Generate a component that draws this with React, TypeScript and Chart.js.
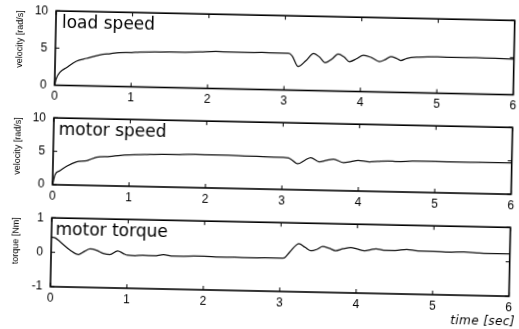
import React, { useEffect, useRef } from "react";
import { Chart, registerables } from "chart.js";

Chart.register(...registerables);

// ---------------- data ----------------
const timeTicks = [0, 1, 2, 3, 4, 5, 6];
const speedTicks = [0, 5, 10];
const torqueTicks = [-1, 0, 1];

const panelTitles = ["load speed", "motor speed", "motor torque"];
const yAxisTitles = ["velocity [rad/s]", "velocity [rad/s]", "torque [Nm]"];
const xAxisTitle = "time [sec]";

const loadT = [0, 0.02, 0.07, 0.15, 0.28, 0.41, 0.58, 0.72, 0.84, 1.0, 1.1, 1.3, 1.5, 1.7, 1.9, 2.1, 2.3, 2.5, 2.7, 2.9, 3.05, 3.1, 3.18, 3.28, 3.38, 3.46, 3.53, 3.62, 3.7, 3.78, 3.85, 3.94, 4.03, 4.14, 4.24, 4.32, 4.39, 4.46, 4.52, 4.6, 4.75, 5.0, 5.25, 5.5, 5.75, 6.0];
const loadV = [0, 0.9, 1.8, 2.4, 3.3, 3.7, 4.2, 4.4, 4.55, 4.6, 4.7, 4.75, 4.8, 4.8, 4.9, 5.0, 4.95, 4.95, 5.0, 4.95, 4.95, 4.6, 3.2, 4.0, 5.0, 4.5, 3.8, 4.3, 5.0, 4.6, 4.0, 4.4, 4.9, 4.6, 4.1, 4.4, 4.8, 4.6, 4.3, 4.6, 4.8, 4.9, 4.85, 4.9, 4.85, 4.8];

const motorT = [0, 0.03, 0.09, 0.18, 0.31, 0.44, 0.57, 0.74, 0.88, 1.0, 1.2, 1.42, 1.65, 1.86, 2.1, 2.29, 2.5, 2.75, 3.0, 3.08, 3.2, 3.3, 3.37, 3.48, 3.58, 3.67, 3.8, 3.9, 3.99, 4.14, 4.25, 4.38, 4.5, 4.7, 5.0, 5.3, 5.6, 6.0];
const motorV = [0, 1.5, 2.1, 2.8, 3.5, 3.7, 4.25, 4.4, 4.6, 4.7, 4.8, 4.9, 4.9, 5.0, 4.95, 4.95, 4.9, 4.85, 4.8, 4.75, 3.9, 4.5, 4.85, 4.25, 4.5, 4.7, 4.2, 4.4, 4.6, 4.4, 4.5, 4.6, 4.55, 4.65, 4.7, 4.65, 4.7, 4.7];

const torqueT = [0, 0.05, 0.12, 0.25, 0.36, 0.44, 0.51, 0.6, 0.68, 0.77, 0.87, 0.95, 1.0, 1.1, 1.2, 1.35, 1.47, 1.6, 1.8, 2.0, 2.2, 2.4, 2.6, 2.8, 3.0, 3.05, 3.12, 3.24, 3.32, 3.4, 3.48, 3.55, 3.64, 3.72, 3.82, 3.92, 4.0, 4.1, 4.18, 4.25, 4.35, 4.5, 4.65, 4.8, 5.0, 5.2, 5.4, 5.6, 5.8, 6.0];
const torqueV = [0.44, 0.42, 0.3, 0.07, -0.05, 0.05, 0.12, 0.08, 0.0, -0.03, 0.08, 0.0, -0.04, -0.05, -0.03, -0.04, 0.0, -0.04, -0.03, -0.02, -0.04, -0.03, -0.04, -0.03, -0.03, -0.02, 0.15, 0.4, 0.3, 0.2, 0.25, 0.33, 0.28, 0.22, 0.28, 0.32, 0.28, 0.23, 0.27, 0.3, 0.26, 0.26, 0.3, 0.26, 0.26, 0.25, 0.26, 0.24, 0.23, 0.23];

// ---------------- layout ----------------
const W = 519;
const H = 329;
const PLOT_LEFT = 53;
const PLOT_RIGHT = 516;

type Panel = {
  top: number;
  height: number;
  plotTop: number;
  plotBottom: number;
  labelDx: number;
  title: string;
  yTitle: string;
  t: number[];
  v: number[];
  yTicks: number[];
  showXTitle: boolean;
};

const panels: Panel[] = [
  { top: 0, height: 107, plotTop: 15, plotBottom: 89.5, labelDx: 6, title: panelTitles[0], yTitle: yAxisTitles[0], t: loadT, v: loadV, yTicks: speedTicks, showXTitle: false },
  { top: 107, height: 100, plotTop: 8.5, plotBottom: 82, labelDx: 5, title: panelTitles[1], yTitle: yAxisTitles[1], t: motorT, v: motorV, yTicks: speedTicks, showXTitle: false },
  { top: 207, height: 122, plotTop: 9.5, plotBottom: 84, labelDx: 4, title: panelTitles[2], yTitle: yAxisTitles[2], t: torqueT, v: torqueV, yTicks: torqueTicks, showXTitle: true },
];

const decoPlugin = {
  id: "deco",
  afterDraw(chart: any, _args: any, opts: any) {
    const { ctx, chartArea: a, scales } = chart;
    ctx.save();
    ctx.strokeStyle = "#000";
    ctx.lineWidth = 1.6;
    ctx.strokeRect(a.left, a.top, a.right - a.left, a.bottom - a.top);
    ctx.lineWidth = 1;
    ctx.beginPath();
    scales.x.ticks.forEach((t: any) => {
      const px = scales.x.getPixelForValue(t.value);
      ctx.moveTo(px, a.bottom);
      ctx.lineTo(px, a.bottom - 4);
      ctx.moveTo(px, a.top);
      ctx.lineTo(px, a.top + 4);
    });
    scales.y.ticks.forEach((t: any) => {
      const py = scales.y.getPixelForValue(t.value);
      ctx.moveTo(a.left, py);
      ctx.lineTo(a.left + 4, py);
      ctx.moveTo(a.right, py);
      ctx.lineTo(a.right - 4, py);
    });
    ctx.stroke();
    ctx.fillStyle = "#000";
    ctx.font = '17px "DejaVu Sans"';
    ctx.textBaseline = "alphabetic";
    ctx.textAlign = "left";
    ctx.fillText(opts.label, a.left + opts.labelDx, a.top + 17);
    if (opts.xTitle) {
      ctx.font = 'italic 12px "DejaVu Sans"';
      (ctx as any).letterSpacing = "0.4px";
      ctx.textAlign = "right";
      ctx.textBaseline = "middle";
      ctx.fillText(opts.xTitle, chart.width - 1, a.bottom + 26);
    }
    ctx.restore();
  },
};

function PanelChart({ p }: { p: Panel }) {
  const ref = useRef<HTMLCanvasElement | null>(null);
  useEffect(() => {
    if (!ref.current) return;
    const data = p.t.map((x, i) => ({ x, y: p.v[i] }));
    const yMin = p.yTicks[0];
    const yMax = p.yTicks[p.yTicks.length - 1];
    const yStep = p.yTicks[1] - p.yTicks[0];
    const chart = new Chart(ref.current, {
      type: "line",
      data: {
        datasets: [
          {
            data,
            borderColor: "#111",
            borderWidth: 1.25,
            pointRadius: 0,
            cubicInterpolationMode: "monotone",
            fill: false,
          },
        ],
      },
      options: {
        animation: false,
        responsive: false,
        devicePixelRatio: 1,
        events: [],
        layout: {
          autoPadding: false,
          padding: { top: p.plotTop, right: W - PLOT_RIGHT, bottom: 0, left: 0 },
        },
        plugins: {
          legend: { display: false },
          tooltip: { enabled: false },
          deco: { label: p.title, labelDx: p.labelDx, xTitle: p.showXTitle ? xAxisTitle : null },
        } as any,
        scales: {
          x: {
            type: "linear",
            min: timeTicks[0],
            max: timeTicks[timeTicks.length - 1],
            grid: { display: false, drawTicks: false, tickLength: 0 },
            border: { display: false },
            ticks: {
              stepSize: 1,
              autoSkip: false,
              maxRotation: 0,
              padding: 4,
              color: "#000",
              font: { family: '"Liberation Sans", Arial, sans-serif', size: 12 },
            },
            afterFit: (s: any) => {
              s.height = p.height - p.plotBottom;
            },
          },
          y: {
            min: yMin,
            max: yMax,
            grid: { display: false, drawTicks: false, tickLength: 0 },
            border: { display: false },
            ticks: {
              stepSize: yStep,
              padding: 8,
              color: "#000",
              font: { family: '"Liberation Sans", Arial, sans-serif', size: 12 },
            },
            title: {
              display: true,
              text: p.yTitle,
              align: "end",
              color: "#000",
              padding: { top: 12, bottom: 0 },
              font: { family: '"Liberation Sans", Arial, sans-serif', size: 9 },
            },
            afterFit: (s: any) => {
              s.width = PLOT_LEFT;
            },
          },
        },
      },
      plugins: [decoPlugin as any],
    });
    return () => chart.destroy();
  }, [p]);
  return (
    <canvas
      ref={ref}
      width={W}
      height={p.height}
      style={{ position: "absolute", left: 0, top: p.top, width: W, height: p.height, display: "block" }}
    />
  );
}

export default function App() {
  return (
    <div style={{ position: "fixed", left: 0, top: 0, width: W, height: H, overflow: "hidden", background: "#fff" }}>
      <div
        style={{
          position: "absolute",
          left: 0,
          top: 0,
          width: W,
          height: H,
          transform: "rotate(1.2deg)",
          transformOrigin: `${W / 2}px ${H / 2}px`,
        }}
      >
        {panels.map((p, i) => (
          <PanelChart key={i} p={p} />
        ))}
      </div>
    </div>
  );
}
